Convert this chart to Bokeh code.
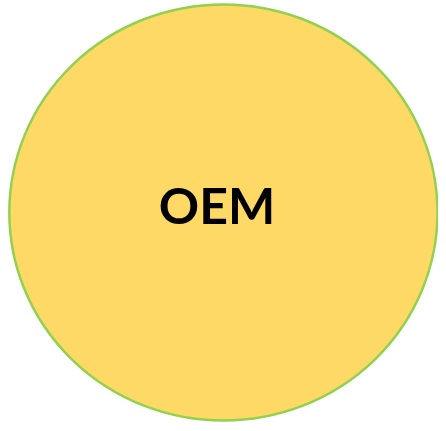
from bokeh.plotting import figure
from bokeh.models import Range1d, ColumnDataSource
from bokeh.core.properties import value
from bokeh.embed import file_html
from bokeh.resources import INLINE

# Data
labels = ["OEM"]
cx = [227]
cy = [216]
widths = [436]
heights = [424]
label_x = [220.5]
label_y = [208]

p = figure(width=438, height=423, output_backend="svg", toolbar_location=None,
           x_range=Range1d(0, 446), y_range=Range1d(431, 0), min_border=0)
p.axis.visible = False
p.grid.visible = False
p.outline_line_color = None
p.background_fill_color = "white"
p.border_fill_color = "white"

src = ColumnDataSource(dict(x=cx, y=cy, w=widths, h=heights))
p.ellipse(x="x", y="y", width="w", height="h", source=src,
          fill_color="#FFD966", line_color="#92D050", line_width=2.5)

tsrc = ColumnDataSource(dict(x=label_x, y=label_y, t=labels))
p.text(x="x", y="y", text="t", source=tsrc, text_font=value("Lato"),
       text_font_style="bold", text_font_size="50px", text_color="black",
       text_align="center", text_baseline="middle")

open("out.html", "w").write(file_html(p, INLINE))
